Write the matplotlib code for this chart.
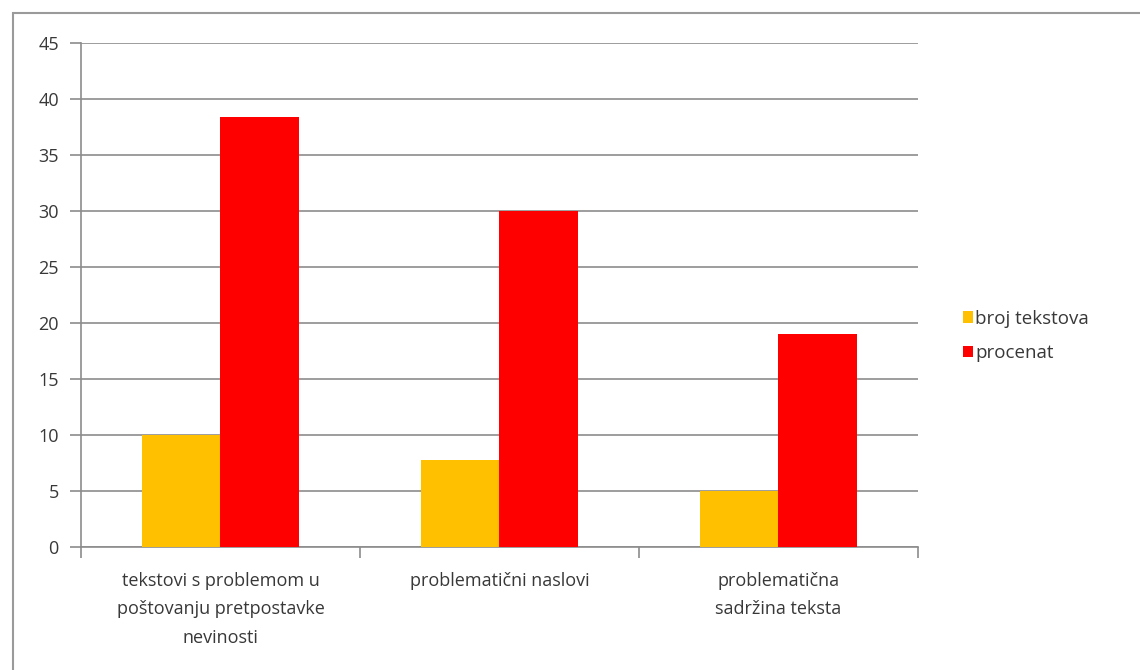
import matplotlib.pyplot as plt
import numpy as np
from matplotlib.patches import Rectangle

categories = [
    "tekstovi s problemom u\npoštovanju pretpostavke\nnevinosti",
    "problematični naslovi",
    "problematična\nsadržina teksta",
]
broj_tekstova = [10, 7.8, 5]
procenat = [38.4, 30, 19]
series_names = ["broj tekstova", "procenat"]
yticks = [0, 5, 10, 15, 20, 25, 30, 35, 40, 45]

plt.rcParams['font.family'] = ['Open Sans', 'DejaVu Sans']
grey = '#8c8c8c'
text_col = '#383838'

fig = plt.figure(figsize=(11.4, 6.7), dpi=100)

# outer chart border
fig.patches.append(Rectangle((13 / 1140, -0.05), 1.2, 1 - 13 / 670 + 0.05,
                             transform=fig.transFigure, fill=False,
                             edgecolor='#9a9a9a', linewidth=1.5))

ax = fig.add_axes([81 / 1140, 1 - 547 / 670, (918 - 81) / 1140, (547 - 43) / 670])

x = np.arange(len(categories))
w = 0.28
ax.bar(x - w / 2, broj_tekstova, w, color='#FFC000', label=series_names[0], zorder=3)
ax.bar(x + w / 2, procenat, w, color='#FF0000', label=series_names[1], zorder=3)

ax.set_xlim(-0.5, 2.5)
ax.set_ylim(0, 45)
ax.set_yticks(yticks)
ax.yaxis.grid(True, color=grey, linewidth=1.2, zorder=0)
ax.set_axisbelow(True)

ax.set_xticks(x)
ax.set_xticklabels(categories, linespacing=1.75)
ax.set_xticks([-0.5, 0.5, 1.5, 2.5], minor=True)
ax.tick_params(axis='x', which='major', length=0, pad=18, labelsize=13, labelcolor=text_col)
ax.tick_params(axis='x', which='minor', length=8, color=grey, width=1.2, direction='out')
ax.tick_params(axis='y', length=8, color=grey, width=1.2, pad=8, labelsize=13, labelcolor=text_col)

for s in ['top', 'right']:
    ax.spines[s].set_visible(False)
for s in ['left', 'bottom']:
    ax.spines[s].set_color(grey)
    ax.spines[s].set_linewidth(1.2)

ax.legend(loc='center left', bbox_to_anchor=(946 / 1140, 1 - 336 / 670),
          bbox_transform=fig.transFigure, frameon=False, fontsize=13.5,
          handlelength=0.55, handleheight=0.55, handletextpad=0.1,
          labelspacing=0.9, labelcolor=text_col)

fig.savefig('out.png', dpi=100)
